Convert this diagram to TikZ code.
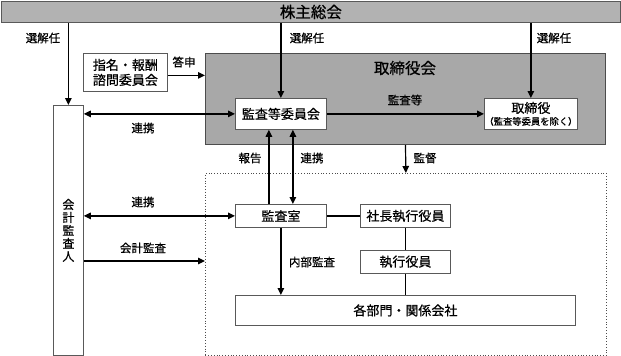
\documentclass[tikz,border=0pt]{standalone}
\usepackage{fontspec}
\setmainfont{Noto Sans CJK JP}[FakeBold=0.6]
\usetikzlibrary{arrows.meta, positioning, calc}
\definecolor{barfill}{gray}{0.70}
\definecolor{boardfill}{gray}{0.66}
\definecolor{edge}{gray}{0.35}

\begin{document}
\begin{tikzpicture}[
    x=1pt, y=-1pt,
    font=\fontsize{13}{15}\selectfont,
    base/.style={draw=edge, align=center, line width=0.8pt, inner sep=1pt, anchor=north west},
    bar/.style={base, fill=barfill, font=\fontsize{15.5}{17}\selectfont},
    board/.style={base, fill=boardfill, draw=black!70, line width=1pt},
    unit/.style={base, fill=white},
    frame/.style={base, draw=black!70, dotted, line width=0.7pt},
    tag/.style={font=\fontsize{11.5}{13}\selectfont, inner sep=0pt},
    arrow/.style={-{Triangle[length=7pt, width=6.5pt]}, line width=1.2pt},
    both/.style={{Triangle[length=7pt, width=6.5pt]}-{Triangle[length=7pt, width=6.5pt]}, line width=1.2pt},
    link/.style={line width=1.2pt}
  ]
    \useasboundingbox (0,0) rectangle (621,356);
    % shareholders and board
    \node[bar, minimum width=619pt, minimum height=21pt] (agm) at (1,1) {株主総会};
    \node[board, minimum width=400pt, minimum height=91pt] (board) at (205,53) {};
    \node[font=\fontsize{15.5}{17}\selectfont] (boardtitle) at (405,68) {取締役会};
    \node[unit, minimum width=84pt, minimum height=38pt, font=\fontsize{13}{15}\selectfont] (advisory) at (83,53)
    {指名・報酬\\諮問委員会};
    \node[unit, minimum width=91pt, minimum height=31pt] (auditcom) at (235,98) {監査等委員会};
    \node[unit, minimum width=92pt, minimum height=31pt, inner sep=0pt] (directors) at (484,98)
    {取締役\\[-3pt]{\fontsize{9.3}{10}\selectfont （監査等委員を除く）}};
    % external auditor
    \node[unit, minimum width=30pt, minimum height=250pt, font=\fontsize{12}{13}\selectfont] (accountant) at (53,105)
    {会\\計\\監\\査\\人};
    % execution side
    \node[frame, minimum width=401pt, minimum height=182pt] (exec) at (205,173) {};
    \node[unit, minimum width=91pt, minimum height=23pt] (auditoff) at (235,204) {監査室};
    \node[unit, minimum width=90pt, minimum height=23pt] (president) at (360,204) {社長執行役員};
    \node[unit, minimum width=90pt, minimum height=23pt, below=22pt of president.south west, anchor=north west] (officers) {執行役員};
    \node[unit, minimum width=340pt, minimum height=30pt] (depts) at (235,295) {各部門・関係会社};
    % connectors
    \draw[arrow] (accountant.north |- agm.south) -- (accountant.north);
    \draw[arrow] (auditcom.north |- agm.south) -- (auditcom.north);
    \draw[arrow] (directors.north |- agm.south) -- (directors.north);
    \coordinate (answerout) at ([yshift=-3pt]advisory.east);
    \draw[arrow] (answerout) -- (board.west |- answerout);
    \draw[both] (accountant.east |- auditcom.west) -- (auditcom.west);
    \draw[arrow] (auditcom.east) -- (directors.west);
    \draw[arrow] (board.south) -- (exec.north);
    \draw[arrow] ([xshift=-12pt]auditoff.north) -- ([xshift=-12pt]auditcom.south);
    \draw[both] ([xshift=12pt]auditcom.south) -- ([xshift=12pt]auditoff.north);
    \draw[both] (accountant.east |- auditoff.west) -- (auditoff.west);
    \coordinate (auditin) at (exec.west |- 0,261);
    \draw[arrow] (accountant.east |- auditin) -- (auditin);
    \draw[link] (auditoff.east) -- (president.west);
    \draw[link] (president.south) -- (officers.north);
    \draw[link] (officers.south) -- (depts.north -| officers.south);
    \draw[arrow] (auditoff.south) -- (auditoff.south |- depts.north);
    % connector labels
    \node[tag] (elect1) at (43,38) {選解任};
    \node[tag] (elect2) at (307,38) {選解任};
    \node[tag] (elect3) at (554,38) {選解任};
    \node[tag] (answer) at (184,62) {答申};
    \node[tag] (coop1) at (143,128) {連携};
    \node[tag] (audit) at (405,100) {監査等};
    \node[tag] (report) at (250,158) {報告};
    \node[tag] (coop2) at (312,158) {連携};
    \node[tag] (supervise) at (425,158) {監督};
    \node[tag] (coop3) at (143,202) {連携};
    \node[tag] (accaudit) at (143,248) {会計監査};
    \node[tag] (internal) at (312,262) {内部監査};
  \end{tikzpicture}
\end{document}
